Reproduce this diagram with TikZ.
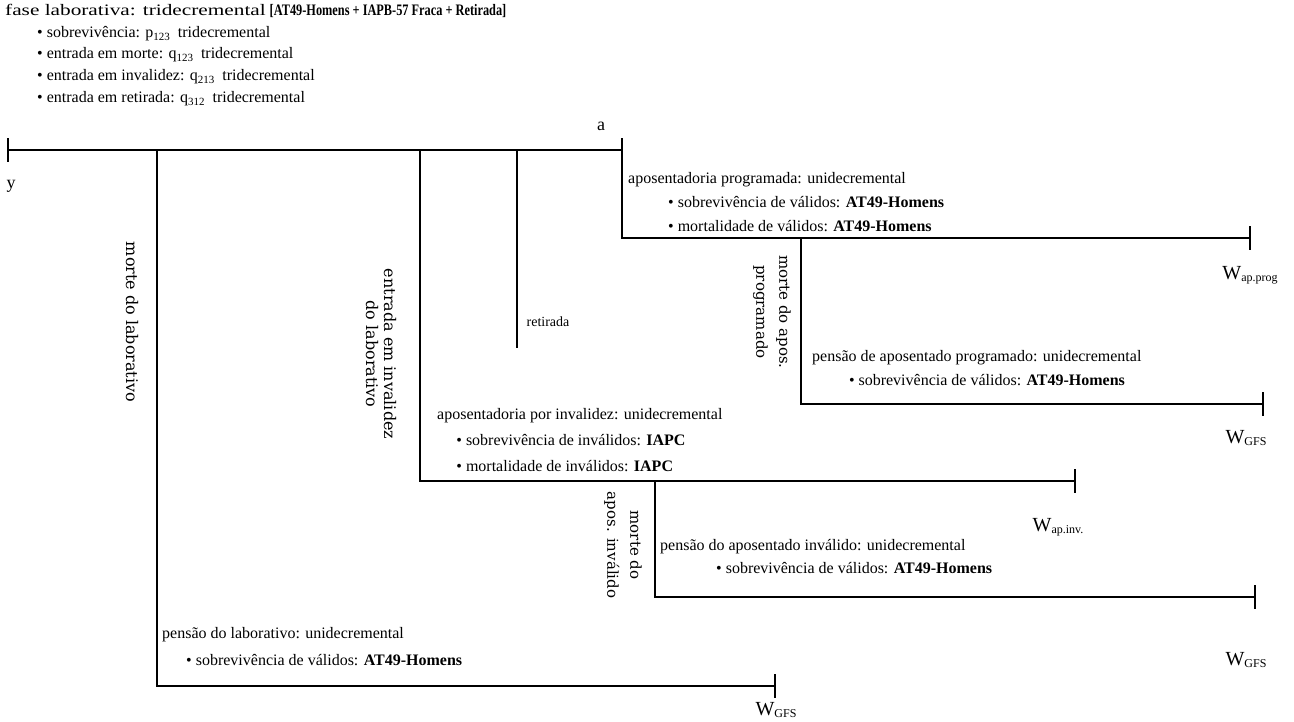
\documentclass[tikz,border=0pt]{standalone}
\usepackage{fontspec}
\setmainfont{Liberation Serif}
\newfontfamily\rotfont{DejaVu Serif}
\newfontfamily\widefont[FakeStretch=1.33]{Liberation Serif}
\newfontfamily\narrowfont[FakeStretch=0.77]{Liberation Serif}
\usetikzlibrary{positioning}

\tikzset{
  lin/.style={line width=1.3pt},
  tickmark/.style={line width=2.6pt},
  txt/.style={inner sep=0pt, anchor=north west, align=left, font=\fontsize{16}{24}\selectfont},
  rotlab/.style={rotate=-90, align=center, inner sep=0pt, font=\rotfont\fontsize{15}{23}\selectfont},
  wlab/.style={inner sep=0pt},
}
\newcommand{\idx}[1]{\raisebox{-0.4ex}{\fontsize{11}{11}\selectfont #1}}
\newcommand{\bul}[1][2.5em]{\hspace*{#1}\textbullet\ }
\newcommand{\Wlab}[1]{{\fontsize{20}{20}\selectfont W}\raisebox{-0.45ex}{\fontsize{12}{12}\selectfont #1}}

\begin{document}
\begin{tikzpicture}[x=1pt,y=-1pt]
\useasboundingbox (0,0) rectangle (1294,721);

% eixo da fase laborativa
\coordinate (y0) at (8,150);
\coordinate (a) at (622,150);
\coordinate (mlab) at (157,150);
\coordinate (ilab) at (420,150);
\coordinate (ret) at (517,150);
\coordinate (retEnd) at (517,348);
% aposentadoria programada
\coordinate (apA) at (622,238);
\coordinate (apEnd) at (1250,238);
\coordinate (mapo) at (801,238);
\coordinate (mapoB) at (801,404);
\coordinate (pprogEnd) at (1263,404);
% aposentadoria por invalidez
\coordinate (invA) at (420,481);
\coordinate (invEnd) at (1075,481);
\coordinate (minv) at (655,481);
\coordinate (minvB) at (655,597);
\coordinate (pinvEnd) at (1255,597);
% pensao do laborativo
\coordinate (plabA) at (157,686);
\coordinate (plabEnd) at (775,686);

\draw[lin] (y0) -- (a) -- (apA) -- (apEnd);
\draw[lin] (mlab) -- (plabA) -- (plabEnd);
\draw[lin] (ilab) -- (invA) -- (invEnd);
\draw[lin] (ret) -- (retEnd);
\draw[lin] (mapo) -- (mapoB) -- (pprogEnd);
\draw[lin] (minv) -- (minvB) -- (pinvEnd);

\foreach \p in {y0,a,apEnd,pprogEnd,invEnd,pinvEnd,plabEnd}
  \draw[tickmark] ([yshift=12pt]\p) -- ([yshift=-12pt]\p);

\node[txt, font=\fontsize{16}{21.7}\selectfont] (fase) at (5,4) {{\widefont fase laborativa: tridecremental} {\narrowfont\bfseries [AT49-Homens + IAPB-57 Fraca + Retirada]}\\
  \bul[2em]sobrevivência: p\idx{123}\ \ tridecremental\\
  \bul[2em]entrada em morte: q\idx{123}\ \ tridecremental\\
  \bul[2em]entrada em invalidez: q\idx{213}\ \ tridecremental\\
  \bul[2em]entrada em retirada: q\idx{312}\ \ tridecremental};
\node[inner sep=0pt, font=\fontsize{18}{18}\selectfont] (alab) at (601,126) {a};
\node[inner sep=0pt, font=\fontsize{18}{18}\selectfont] (ylab) at (11,186) {y};

\node[rotlab, font=\rotfont\fontsize{16}{18}\selectfont] (mortelab) at (132,322) {morte do laborativo};
\node[rotlab, font=\rotfont\fontsize{16}{18}\selectfont] (invlab) at (381,354) {entrada em invalidez\\do laborativo};
\node[inner sep=0pt, font=\fontsize{14}{14}\selectfont] (retlab) at (548,322) {retirada};
\node[rotlab] (mapolab) at (772,312) {morte do apos.\\programado};
\node[rotlab] (minvlab) at (623,545) {morte do\\apos. inválido};

\node[txt] (approg) at (628,172) {aposentadoria programada: unidecremental\\
  \bul sobrevivência de válidos: \textbf{AT49-Homens}\\
  \bul mortalidade de válidos: \textbf{AT49-Homens}};
\node[txt] (pprog) at (812,350) {pensão de aposentado programado: unidecremental\\
  \bul[2.3em]sobrevivência de válidos: \textbf{AT49-Homens}};
\node[txt, font=\fontsize{16}{26}\selectfont] (apinv) at (437,408) {aposentadoria por invalidez: unidecremental\\
  \bul[1.2em]sobrevivência de inválidos: \textbf{IAPC}\\
  \bul[1.2em]mortalidade de inválidos: \textbf{IAPC}};
\node[txt, font=\fontsize{16}{23}\selectfont] (pinv) at (660,539) {pensão do aposentado inválido: unidecremental\\
  \bul[3.5em]sobrevivência de válidos: \textbf{AT49-Homens}};
\node[txt, font=\fontsize{16}{27}\selectfont] (plab) at (162,627) {pensão do laborativo: unidecremental\\
  \bul[1.5em]sobrevivência de válidos: \textbf{AT49-Homens}};

\node[wlab] (wprog) at (1250,275) {\Wlab{ap.prog}};
\node[wlab] (wgfsA) at (1246,438) {\Wlab{GFS}};
\node[wlab] (wapinv) at (1058,527) {\Wlab{ap.inv.}};
\node[wlab] (wgfsB) at (1246,660) {\Wlab{GFS}};
\node[wlab] (wgfsC) at (776,710) {\Wlab{GFS}};
\end{tikzpicture}
\end{document}
